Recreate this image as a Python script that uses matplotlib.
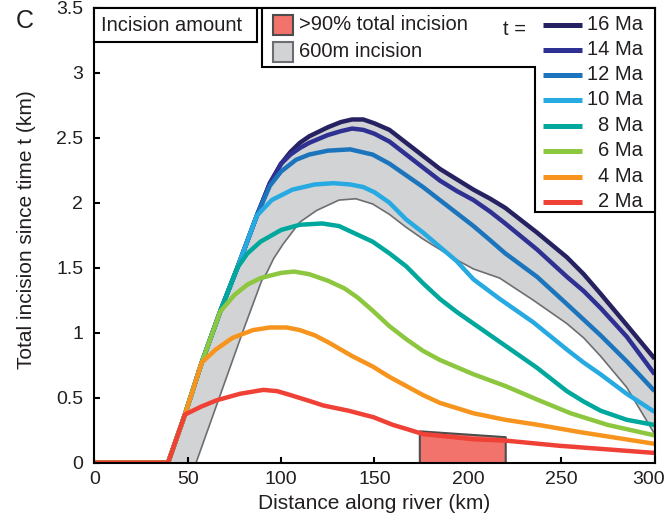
import numpy as np
import matplotlib
matplotlib.use("Agg")
import matplotlib.pyplot as plt
from matplotlib.patches import Polygon, Rectangle
from matplotlib.lines import Line2D
from matplotlib.transforms import ScaledTranslation

plt.rcParams["font.family"] = ["Liberation Sans", "DejaVu Sans"]

# ---- incision profiles: distance along river (km) -> total incision (km) ----
x_16 = [0, 39.5, 48.5, 57.5, 67.3, 76.6, 87, 94, 100, 105, 110, 115, 125, 132, 138, 144, 150, 158, 167,
        176, 185, 194, 203, 212, 220, 237, 253, 262, 271, 285, 300]
y_16 = [0, 0, 0.37, 0.77, 1.16, 1.50, 1.90, 2.15, 2.30, 2.39, 2.46, 2.51, 2.58, 2.62, 2.64, 2.64, 2.61, 2.56, 2.46,
        2.36, 2.26, 2.18, 2.10, 2.03, 1.96, 1.77, 1.58, 1.45, 1.30, 1.06, 0.80]

x_14 = [0, 39.5, 48.5, 57.5, 67.3, 76.6, 87, 94, 100, 105, 110, 115, 125, 132, 138, 144, 150, 158, 167,
        176, 185, 194, 203, 212, 220, 237, 253, 262, 271, 285, 300]
y_14 = [0, 0, 0.37, 0.77, 1.16, 1.50, 1.90, 2.15, 2.30, 2.37, 2.42, 2.46, 2.52, 2.55, 2.57, 2.56, 2.53, 2.47, 2.37,
        2.27, 2.17, 2.09, 2.02, 1.93, 1.84, 1.64, 1.43, 1.32, 1.19, 0.97, 0.68]

x_12 = [0, 39.5, 48.5, 57.5, 67.3, 76.6, 87, 94, 100, 108, 115, 125, 137, 149, 158, 167, 176, 185, 194,
        203, 212, 220, 237, 253, 262, 271, 285, 300]
y_12 = [0, 0, 0.37, 0.77, 1.16, 1.50, 1.90, 2.13, 2.24, 2.33, 2.37, 2.40, 2.41, 2.37, 2.30, 2.21, 2.12, 2.02, 1.92,
        1.82, 1.71, 1.61, 1.43, 1.22, 1.10, 0.98, 0.78, 0.55]

x_10 = [0, 39.5, 48.5, 57.5, 67.3, 76.6, 87, 95, 106, 118, 128, 137, 144, 150, 158, 167, 176, 185, 194,
        203, 217, 235, 253, 262, 271, 285, 300]
y_10 = [0, 0, 0.37, 0.77, 1.16, 1.50, 1.90, 2.02, 2.10, 2.14, 2.15, 2.14, 2.12, 2.08, 2.00, 1.87, 1.77, 1.66, 1.55,
        1.41, 1.26, 1.08, 0.87, 0.77, 0.68, 0.53, 0.39]

x_8 = [0, 39.5, 48.5, 57.5, 67.3, 76.6, 82, 89, 100, 110, 122, 131, 140, 149, 158, 167, 176, 185, 194,
       203, 212, 220, 237, 253, 262, 271, 285, 300]
y_8 = [0, 0, 0.37, 0.77, 1.16, 1.50, 1.61, 1.70, 1.79, 1.83, 1.84, 1.82, 1.76, 1.70, 1.61, 1.51, 1.38, 1.26, 1.16,
       1.07, 0.98, 0.90, 0.73, 0.55, 0.47, 0.40, 0.33, 0.29]

x_6 = [0, 39.5, 48.5, 57.5, 67.3, 75, 82, 89, 100, 107, 115, 125, 134, 141, 149, 158, 167, 176, 185,
       203, 220, 238, 255, 275, 300]
y_6 = [0, 0, 0.37, 0.77, 1.16, 1.29, 1.37, 1.42, 1.46, 1.47, 1.45, 1.40, 1.34, 1.27, 1.17, 1.05, 0.95, 0.86, 0.79,
       0.68, 0.59, 0.48, 0.38, 0.29, 0.21]

x_4 = [0, 39.5, 48.5, 57.5, 65, 74, 85, 94, 103, 110, 118, 126, 132, 138, 149, 158, 167, 176, 185,
       203, 220, 238, 260, 280, 300]
y_4 = [0, 0, 0.37, 0.77, 0.87, 0.96, 1.02, 1.04, 1.04, 1.02, 0.98, 0.92, 0.87, 0.82, 0.74, 0.66, 0.59, 0.52, 0.46,
       0.38, 0.33, 0.29, 0.235, 0.19, 0.145]

x_2 = [0, 39.5, 48.5, 57, 65.5, 78, 90.5, 98, 105, 114, 122.6, 136, 149.4, 160, 167, 176, 190, 203,
       220, 249, 300]
y_2 = [0, 0, 0.37, 0.43, 0.48, 0.53, 0.56, 0.55, 0.52, 0.48, 0.44, 0.40, 0.35, 0.29, 0.26, 0.22, 0.20, 0.18,
       0.17, 0.13, 0.075]

# lower edge of the 600 m incision band
x_600 = [54.5, 79.8, 89.6, 92.3, 96, 101, 110, 119, 131, 140, 149, 158, 167, 176, 185, 194, 203, 217,
         235, 253, 262, 271, 285, 300]
y_600 = [0, 1.02, 1.40, 1.46, 1.57, 1.68, 1.85, 1.94, 2.02, 2.03, 1.99, 1.91, 1.81, 1.72, 1.64, 1.56, 1.49, 1.42,
         1.25, 1.07, 0.96, 0.82, 0.58, 0.22]

# reach holding >90% of total incision
x_90 = [174, 220]
y_90 = [0.245, 0.20]

ages = ["16 Ma", "14 Ma", "12 Ma", "10 Ma", "8 Ma", "6 Ma", "4 Ma", "2 Ma"]
xs = [x_16, x_14, x_12, x_10, x_8, x_6, x_4, x_2]
ys = [y_16, y_14, y_12, y_10, y_8, y_6, y_4, y_2]
colors = ["#262262", "#2E3192", "#1C75BC", "#27AAE1", "#00A79D", "#8DC63F", "#F7941D", "#EF4136"]

x_ticks = [0, 50, 100, 150, 200, 250, 300]
y_ticks = [0, 0.5, 1, 1.5, 2, 2.5, 3, 3.5]
y_ticklabels = ["0", "0.5", "1", "1.5", "2", "2.5", "3", "3.5"]

ink = "#231F20"
band_color = "#D1D3D4"
band_edge = "#6D6E71"
patch_color = "#F2726C"
patch_edge = "#4D4D4D"

fig = plt.figure(figsize=(6.66, 5.18), dpi=100)
ax = fig.add_axes([0.1416, 0.1068, 0.8414, 0.8784])

# grey band between the oldest profile and the 600 m line
band_x = np.concatenate([x_16, x_600[::-1]])
band_y = np.concatenate([y_16, y_600[::-1]])
ax.fill(band_x, band_y, facecolor=band_color, edgecolor="none", zorder=1)
ax.plot(x_600, y_600, color=band_edge, lw=1.2, zorder=2)

ax.fill_between(x_90, 0, y_90, facecolor=patch_color, edgecolor=patch_edge, lw=1.5, zorder=2)

for xv, yv, c in zip(xs, ys, colors):
    ax.plot(xv, yv, color=c, lw=3.2, solid_capstyle="butt", solid_joinstyle="round", zorder=3)

ax.set_xlim(0, 300)
ax.set_ylim(0, 3.5)
ax.set_xticks(x_ticks)
ax.set_yticks(y_ticks)
ax.set_yticklabels(y_ticklabels)
ax.tick_params(direction="in", length=4, width=1.5, labelsize=14, color="black", labelcolor=ink)
ax.tick_params(axis="x", pad=6)
ax.tick_params(axis="y", pad=8)
# keep the last distance label inside the figure
last = ax.get_xticklabels()[-1]
last.set_transform(last.get_transform() + ScaledTranslation(-6 / 100, 0, fig.dpi_scale_trans))
for sp in ax.spines.values():
    sp.set_linewidth(1.5)
    sp.set_zorder(6)
ax.set_xlabel("Distance along river (km)", fontsize=15, labelpad=4, color=ink)
fig.text(27 / 666, 1 - 230 / 518, "Total incision since time t (km)", rotation=90,
         ha="center", va="center", fontsize=15, color=ink)
fig.text(24.5 / 666, 1 - 21 / 518, "C", ha="center", va="center", fontsize=18, color=ink)

T = ax.transAxes
# "Incision amount" box
ax.add_patch(Rectangle((0, 0.9246), 0.290, 0.0754, transform=T, facecolor="white",
                       edgecolor="black", lw=1.5, zorder=7, clip_on=False))
ax.text(0.0125, 0.9615, "Incision amount", transform=T, ha="left", va="center",
        fontsize=14.5, color=ink, zorder=8)

# legend frame
frame = [(0.2993, 1.0), (1.0, 1.0), (1.0, 0.551), (0.7866, 0.551), (0.7866, 0.8697), (0.2993, 0.8697)]
ax.add_patch(Polygon(frame, closed=True, transform=T, facecolor="white", edgecolor="black",
                     lw=1.5, zorder=7, clip_on=False))

# area swatches
sw_w, sw_h = 20 / 560.4, 20 / 455
for (cy, fc, ec, lab) in [(25, patch_color, patch_edge, ">90% total incision"),
                          (52, band_color, band_edge, "600m incision")]:
    yc = (462.7 - cy) / 455
    ax.add_patch(Rectangle((0.318, yc - sw_h / 2), sw_w, sw_h, transform=T, facecolor=fc,
                           edgecolor=ec, lw=1.5, zorder=8, clip_on=False))
    ax.text(0.366, yc, lab, transform=T, ha="left", va="center", fontsize=14.5,
            color=ink, zorder=8)

ax.text(0.749, 0.951, "t =", transform=T, ha="center", va="center", fontsize=14.5,
        color=ink, zorder=8)

row_px = [25, 50, 75, 100, 126, 151, 177, 202]
for lab, c, cy in zip(ages, colors, row_px):
    yc = (462.7 - cy) / 455
    ax.add_line(Line2D([0.8007, 0.8703], [yc, yc], transform=T, color=c, lw=3.6,
                       solid_capstyle="butt", zorder=8, clip_on=False))
    ax.text(0.979, yc, lab, transform=T, ha="right", va="center", fontsize=14.5,
            color=ink, zorder=8)

fig.savefig("out.png", dpi=100)
